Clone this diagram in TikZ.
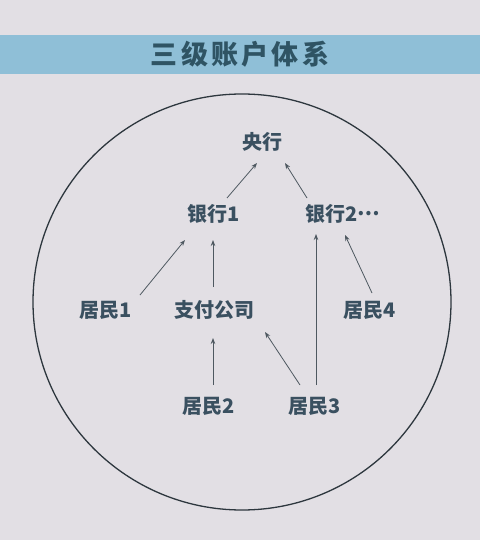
\documentclass[tikz,border=0pt]{standalone}
\usepackage{fontspec}
\newfontfamily\cjk{Noto Sans CJK SC}
\newfontfamily\cjktitle[LetterSpace=12]{Noto Sans CJK SC}
\usetikzlibrary{arrows.meta}
\definecolor{bgc}{RGB}{226,223,228}
\definecolor{banner}{RGB}{143,191,215}
\definecolor{txt}{RGB}{58,80,96}
\definecolor{titletxt}{RGB}{47,84,100}
\definecolor{arrc}{RGB}{78,88,96}
\definecolor{ring}{RGB}{45,55,62}
\tikzset{
  lbl/.style={inner sep=0pt, text=txt, font=\cjk\bfseries\fontsize{20}{20}\selectfont},
  arr/.style={draw=arrc, line width=0.8pt, -{Stealth[length=6pt,width=4.5pt]}}
}
\begin{document}
\begin{tikzpicture}[x=1pt,y=-1pt]
\fill[bgc] (0,0) rectangle (480,540);
\useasboundingbox (0,0) rectangle (480,540);
\fill[banner] (0,35) rectangle (480,74);
\node[inner sep=0pt, text=titletxt, font=\cjktitle\bfseries\fontsize{27}{27}\selectfont] (title) at (240,54) {三级账户体系};
\draw[ring, line width=1.3pt] (242,302) ellipse [x radius=209, y radius=208];
\node[lbl] (cb) at (262,142) {央行};
\node[lbl] (b1) at (214,214) {银行1};
\node[lbl] (b2) at (343,214) {银行2\raisebox{6pt}{…}};
\node[lbl] (r1) at (106,310) {居民1};
\node[lbl] (pay) at (214,310) {支付公司};
\node[lbl] (r4) at (370,310) {居民4};
\node[lbl] (r2) at (209,406) {居民2};
\node[lbl] (r3) at (315,406) {居民3};
\draw[arr] ([xshift=13pt,yshift=16pt]b1.center) -- ([xshift=-5pt,yshift=-21pt]cb.center);
\draw[arr] ([xshift=-36pt,yshift=16pt]b2.center) -- ([xshift=23pt,yshift=-21pt]cb.center);
\draw[arr] ([xshift=34pt,yshift=15pt]r1.center) -- ([xshift=-29pt,yshift=-26pt]b1.center);
\draw[arr] ([xshift=-1pt,yshift=23pt]pay.center) -- ([xshift=-1pt,yshift=-26pt]b1.center);
\draw[arr] ([xshift=4pt,yshift=21pt]r2.center) -- ([xshift=-1pt,yshift=-28pt]pay.center);
\draw[arr] ([xshift=-15pt,yshift=21pt]r3.center) -- ([xshift=51pt,yshift=-22pt]pay.center);
\draw[arr] ([xshift=1pt,yshift=21pt]r3.center) -- ([xshift=-27pt,yshift=-20pt]b2.center);
\draw[arr] ([xshift=2pt,yshift=17pt]r4.center) -- ([xshift=2pt,yshift=-21pt]b2.center);
\end{tikzpicture}
\end{document}
